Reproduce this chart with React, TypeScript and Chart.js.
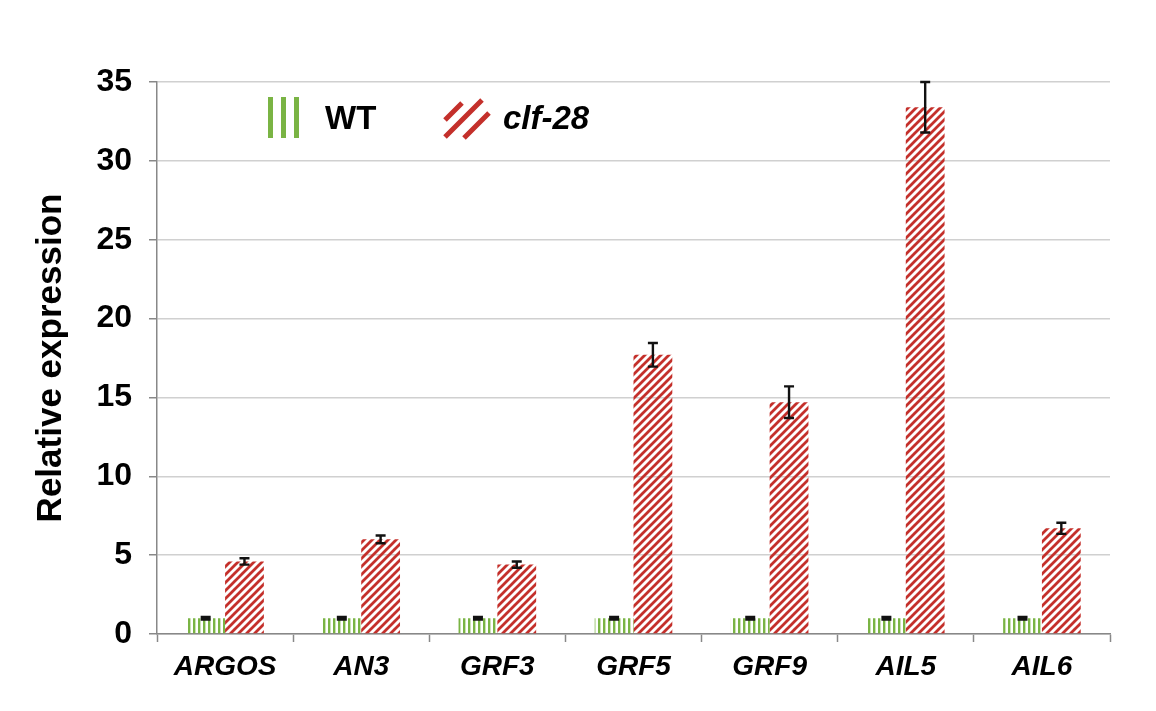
import React, { useEffect, useRef } from "react";
import { Chart, registerables } from "chart.js";

Chart.register(...registerables);

const categories = ["ARGOS", "AN3", "GRF3", "GRF5", "GRF9", "AIL5", "AIL6"];
const wtValues = [1, 1, 1, 1, 1, 1, 1];
const wtErrors = [0.08, 0.08, 0.08, 0.08, 0.08, 0.08, 0.08];
const clfValues = [4.6, 6.0, 4.4, 17.7, 14.7, 33.4, 6.7];
const clfErrors = [0.2, 0.25, 0.2, 0.75, 1.0, 1.6, 0.35];
const yTicks = [0, 5, 10, 15, 20, 25, 30, 35];
const seriesNames = ["WT", "clf-28"];

const GREEN = "#7ab444";
const RED = "#c4302b";

function makeVerticalPattern(ctx: CanvasRenderingContext2D): CanvasPattern | string {
  const c = document.createElement("canvas");
  c.width = 5;
  c.height = 5;
  const g = c.getContext("2d");
  if (!g) return GREEN;
  g.fillStyle = GREEN;
  g.fillRect(0, 0, 2.4, 5);
  return ctx.createPattern(c, "repeat") || GREEN;
}

function makeDiagonalPattern(ctx: CanvasRenderingContext2D): CanvasPattern | string {
  const s = 8;
  const c = document.createElement("canvas");
  c.width = s;
  c.height = s;
  const g = c.getContext("2d");
  if (!g) return RED;
  g.strokeStyle = RED;
  g.lineWidth = 2.8;
  g.beginPath();
  g.moveTo(-1, s + 1);
  g.lineTo(s + 1, -1);
  g.moveTo(-1, 1);
  g.lineTo(1, -1);
  g.moveTo(s - 1, s + 1);
  g.lineTo(s + 1, s - 1);
  g.stroke();
  return ctx.createPattern(c, "repeat") || RED;
}

const errorBarPlugin = {
  id: "errorBars",
  afterDatasetsDraw(chart: any) {
    const ctx = chart.ctx;
    const yScale = chart.scales.y;
    const errs = [wtErrors, clfErrors];
    const vals = [wtValues, clfValues];
    ctx.save();
    ctx.strokeStyle = "#111";
    ctx.lineWidth = 2.4;
    chart.data.datasets.forEach((_ds: any, di: number) => {
      const meta = chart.getDatasetMeta(di);
      meta.data.forEach((bar: any, i: number) => {
        const v = vals[di][i];
        const e = errs[di][i];
        const x = bar.x;
        const yt = yScale.getPixelForValue(v + e);
        const yb = yScale.getPixelForValue(v - e);
        const hw = 5;
        ctx.beginPath();
        ctx.moveTo(x, yt);
        ctx.lineTo(x, yb);
        ctx.moveTo(x - hw, yt);
        ctx.lineTo(x + hw, yt);
        ctx.moveTo(x - hw, yb);
        ctx.lineTo(x + hw, yb);
        ctx.stroke();
      });
    });
    ctx.restore();
  },
};

const legendPlugin = {
  id: "innerLegend",
  afterDraw(chart: any) {
    const ctx = chart.ctx;
    ctx.save();
    ctx.fillStyle = GREEN;
    for (let k = 0; k < 3; k++) {
      ctx.fillRect(260 + k * 13, 89, 5, 41);
    }
    ctx.fillStyle = "#000";
    ctx.textBaseline = "middle";
    ctx.textAlign = "left";
    ctx.font = "bold 33px 'Liberation Sans', Arial, sans-serif";
    ctx.fillText(seriesNames[0], 317, 112);
    ctx.strokeStyle = RED;
    ctx.lineWidth = 5;
    ctx.lineCap = "butt";
    ctx.beginPath();
    ctx.moveTo(437, 112);
    ctx.lineTo(454, 95);
    ctx.moveTo(437, 129);
    ctx.lineTo(474, 92);
    ctx.moveTo(456, 130);
    ctx.lineTo(481, 105);
    ctx.stroke();
    ctx.fillStyle = "#000";
    ctx.font = "italic bold 33px 'Liberation Sans', Arial, sans-serif";
    ctx.fillText(seriesNames[1], 495, 112);
    ctx.restore();
  },
};

export default function App() {
  const ref = useRef<HTMLCanvasElement | null>(null);
  useEffect(() => {
    const canvas = ref.current;
    if (!canvas) return;
    const ctx = canvas.getContext("2d");
    if (!ctx) return;
    const chart = new Chart(ctx, {
      type: "bar",
      data: {
        labels: categories,
        datasets: [
          {
            label: seriesNames[0],
            data: wtValues,
            backgroundColor: makeVerticalPattern(ctx) as any,
            borderWidth: 0,
            barPercentage: 1,
            categoryPercentage: 0.57,
          },
          {
            label: seriesNames[1],
            data: clfValues,
            backgroundColor: makeDiagonalPattern(ctx) as any,
            borderWidth: 0,
            barPercentage: 1,
            categoryPercentage: 0.57,
          },
        ],
      },
      options: {
        animation: false,
        responsive: false,
        maintainAspectRatio: false,
        layout: { padding: { top: 74, right: 38, left: 0, bottom: 0 } },
        plugins: {
          legend: { display: false },
          tooltip: { enabled: false },
        },
        scales: {
          x: {
            grid: {
              offset: true,
              drawOnChartArea: false,
              drawTicks: true,
              tickLength: 8,
              tickColor: "#888",
              tickWidth: 1.5,
            },
            border: { color: "#888", width: 1.5 },
            ticks: {
              color: "#000",
              padding: 8,
              font: { family: "'Liberation Sans', Arial, sans-serif", size: 28, weight: "bold", style: "italic" },
            },
            afterFit(scale: any) {
              scale.height = 69;
            },
          },
          y: {
            min: 0,
            max: 35,
            afterBuildTicks(scale: any) {
              scale.ticks = yTicks.map((v) => ({ value: v }));
            },
            grid: {
              color: "#d0d0d0",
              lineWidth: 1.5,
              drawTicks: true,
              tickLength: 8,
              tickColor: "#888",
              tickWidth: 1.5,
            },
            border: { color: "#888", width: 1.5 },
            ticks: {
              color: "#000",
              padding: 17,
              font: { family: "'Liberation Sans', Arial, sans-serif", size: 32, weight: "bold" },
            },
            title: {
              display: true,
              text: "Relative expression",
              color: "#000",
              padding: { top: 22, bottom: 0 },
              font: { family: "'Liberation Sans', Arial, sans-serif", size: 35, weight: "bold" },
            },
            afterFit(scale: any) {
              scale.width = 149;
            },
          },
        },
      },
      plugins: [errorBarPlugin, legendPlugin],
    });
    return () => chart.destroy();
  }, []);
  return (
    <div style={{ width: 1140, height: 695 }}>
      <canvas ref={ref} width={1140} height={695} style={{ display: "block" }} />
    </div>
  );
}
